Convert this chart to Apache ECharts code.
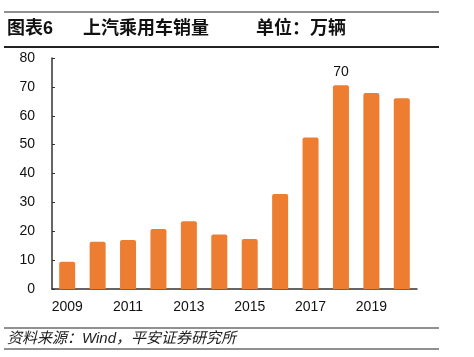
<!DOCTYPE html>
<html><head><meta charset="utf-8">
<script src="https://cdn.jsdelivr.net/npm/echarts@6/dist/echarts.min.js"></script>
<style>html,body{margin:0;padding:0;background:#fff}#c{width:474px;height:357px}</style>
</head><body><div id="c"></div>
<script>
const years = ['2009','2010','2011','2012','2013','2014','2015','2016','2017','2018','2019','2020'];
const sales = [9.4, 16.4, 17.0, 20.8, 23.5, 18.9, 17.3, 32.9, 52.5, 70.6, 67.9, 66.1];
const yTicks = {min: 0, max: 80, interval: 10};
const titleLeft = '图表6', titleMid = '上汽乘用车销量', titleRight = '单位：万辆';
const source = '资料来源：Wind，平安证券研究所';
const labelIndex = 9;

const chart = echarts.init(document.getElementById('c'));
const font = '"Liberation Sans", Arial, "Noto Sans CJK SC", sans-serif';
const axisColor = '#333';
chart.setOption({
  animation: false,
  grid: {left: 52, right: 57, top: 58, bottom: 68},
  xAxis: {
    type: 'category', data: years,
    axisLine: {lineStyle: {color: axisColor, width: 1.5}},
    axisTick: {inside: true, length: 3, alignWithLabel: false, interval: 0, lineStyle: {color: axisColor}},
    axisLabel: {interval: 1, color: '#111', fontSize: 14, fontFamily: font, margin: 11}
  },
  yAxis: {
    type: 'value', min: yTicks.min, max: yTicks.max, interval: yTicks.interval,
    splitLine: {show: false},
    axisLine: {show: true, lineStyle: {color: axisColor, width: 1.5}},
    axisTick: {show: true, inside: true, length: 3, lineStyle: {color: axisColor}},
    axisLabel: {color: '#111', fontSize: 14, fontFamily: font, margin: 17}
  },
  series: [{
    type: 'bar', data: sales.map((v, i) => i === labelIndex ? {value: v, label: {show: true}} : v),
    barWidth: 16,
    itemStyle: {color: '#ED7D31', borderRadius: [2, 2, 0, 0]},
    label: {show: false, position: 'top', distance: 6, color: '#111', fontSize: 14, fontFamily: font,
      formatter: p => Math.round(p.value / 10) * 10}
  }],
  graphic: [
    {type: 'line', shape: {x1: 4, y1: 12, x2: 439, y2: 12}, style: {stroke: '#222', lineWidth: 1}},
    {type: 'line', shape: {x1: 4, y1: 47, x2: 439, y2: 47}, style: {stroke: '#222', lineWidth: 2}},
    {type: 'text', left: 7, top: 20, style: {text: titleLeft, font: 'bold 18px ' + font, fill: '#111'}},
    {type: 'text', left: 83, top: 20, style: {text: titleMid, font: 'bold 18px ' + font, fill: '#111'}},
    {type: 'text', left: 256, top: 20, style: {text: titleRight, font: 'bold 18px ' + font, fill: '#111'}},
    {type: 'line', shape: {x1: 4, y1: 328, x2: 439, y2: 328}, style: {stroke: '#222', lineWidth: 1}},
    {type: 'text', left: 7, top: 331, style: {text: source, font: 'italic 15px ' + font, fill: '#222'}},
    {type: 'line', shape: {x1: 4, y1: 349, x2: 439, y2: 349}, style: {stroke: '#222', lineWidth: 1}}
  ]
});
</script></body></html>
